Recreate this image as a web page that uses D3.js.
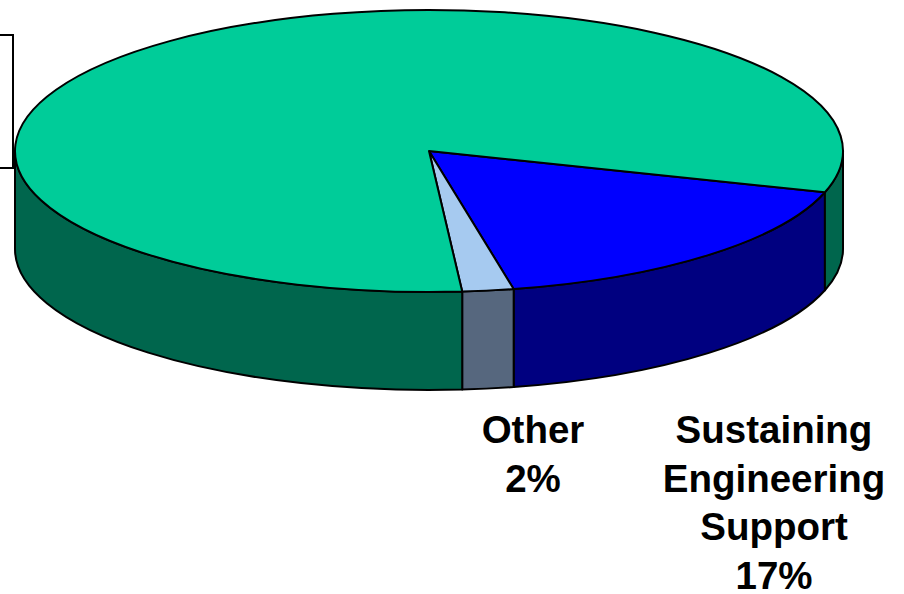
<!DOCTYPE html>
<html>
<head>
<meta charset="utf-8">
<script src="https://cdn.jsdelivr.net/npm/d3@7"></script>
<style>
  html, body { margin: 0; padding: 0; background: #fff; }
  svg { display: block; }
  text { font-family: "Liberation Sans", Arial, sans-serif; font-weight: bold; fill: #000; }
</style>
</head>
<body>
<svg id="chart" width="904" height="594"></svg>
<script>
// Slice data, in drawing order (clockwise)
const categories = ["Sustaining Engineering Support", "Other", "Core"];
const values = [17, 2, 81];
const topColors = ["#0000ff", "#a6caf0", "#00cc99"];
const sideColors = ["#000080", "#56677e", "#00664d"];
const labelLines = [
  ["Sustaining", "Engineering", "Support", "17%"],
  ["Other", "2%"]
];

const W = 904, H = 594;
const cx = 429, cy = 151, rx = 414, ry = 141, depth = 98;

const svg = d3.select("#chart");

const start = 107 * Math.PI / 180;
const pie = d3.pie().sort(null).value(d => d)
  .startAngle(start).endAngle(start + 2 * Math.PI);
const arcs = pie(values);

// point on the top ellipse for a d3 pie angle (0 = north, clockwise)
const pt = (a, dy = 0) => [cx + rx * Math.sin(a), cy - ry * Math.cos(a) + dy];

function topPath(a0, a1) {
  const p0 = pt(a0), p1 = pt(a1);
  const large = (a1 - a0) > Math.PI ? 1 : 0;
  return `M${cx},${cy}L${p0[0]},${p0[1]}A${rx},${ry} 0 ${large} 1 ${p1[0]},${p1[1]}Z`;
}

function sidePath(a0, a1) {
  const p0 = pt(a0), p1 = pt(a1), q0 = pt(a0, depth), q1 = pt(a1, depth);
  return `M${p0[0]},${p0[1]}A${rx},${ry} 0 0 1 ${p1[0]},${p1[1]}` +
         `L${q1[0]},${q1[1]}A${rx},${ry} 0 0 0 ${q0[0]},${q0[1]}Z`;
}

// front-facing rim portions: angles between east and west through south
const sides = [];
arcs.forEach((d, i) => {
  for (let k = 0; k < 3; k++) {
    const lo = Math.PI / 2 + k * 2 * Math.PI, hi = 3 * Math.PI / 2 + k * 2 * Math.PI;
    const a0 = Math.max(d.startAngle, lo), a1 = Math.min(d.endAngle, hi);
    if (a1 > a0) sides.push({ i, a0, a1 });
  }
});

// label box at the left edge
svg.append("rect")
  .attr("x", -220).attr("y", 35).attr("width", 233).attr("height", 133)
  .attr("fill", "#fff").attr("stroke", "#000").attr("stroke-width", 2);

svg.append("g").selectAll("path").data(sides).join("path")
  .attr("d", s => sidePath(s.a0, s.a1))
  .attr("fill", s => sideColors[s.i])
  .attr("stroke", "#000").attr("stroke-width", 2).attr("stroke-linejoin", "round");

svg.append("g").selectAll("path").data(arcs).join("path")
  .attr("d", d => topPath(d.startAngle, d.endAngle))
  .attr("fill", (d, i) => topColors[i])
  .attr("stroke", "#000").attr("stroke-width", 2).attr("stroke-linejoin", "round");

// data labels
const labelPos = [
  { x: 774, y: 443 },
  { x: 533, y: 443 }
];
labelLines.forEach((lines, i) => {
  const t = svg.append("text")
    .attr("text-anchor", "middle")
    .attr("font-size", 38.5);
  lines.forEach((ln, j) => {
    t.append("tspan").attr("x", labelPos[i].x).attr("y", labelPos[i].y + j * 48.5).text(ln);
  });
});
</script>
</body>
</html>
